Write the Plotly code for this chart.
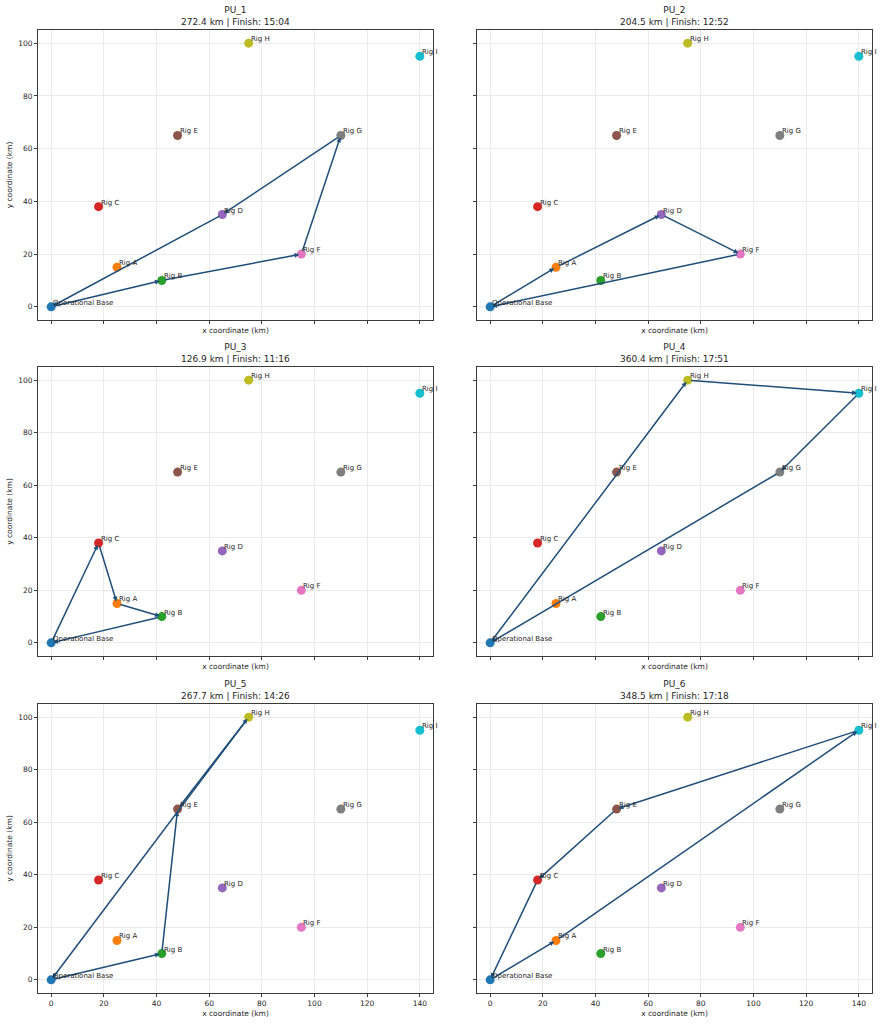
import plotly.graph_objects as go

# site locations (km)
sites = ["Operational Base", "Rig A", "Rig B", "Rig C", "Rig D",
         "Rig E", "Rig F", "Rig G", "Rig H", "Rig I"]
site_x = [0, 25, 42, 18, 65, 48, 95, 110, 75, 140]
site_y = [0, 15, 10, 38, 35, 65, 20, 65, 100, 95]

# one route per production unit, start/end at the base
pu_names = ["PU_1", "PU_2", "PU_3", "PU_4", "PU_5", "PU_6"]
pu_routes = [
    ["Operational Base", "Rig B", "Rig F", "Rig G", "Rig D", "Operational Base"],
    ["Operational Base", "Rig A", "Rig D", "Rig F", "Operational Base"],
    ["Operational Base", "Rig C", "Rig A", "Rig B", "Operational Base"],
    ["Operational Base", "Rig H", "Rig I", "Rig G", "Operational Base"],
    ["Operational Base", "Rig B", "Rig E", "Rig H", "Operational Base"],
    ["Operational Base", "Rig A", "Rig I", "Rig E", "Rig C", "Operational Base"],
]
pu_km = [272.4, 204.5, 126.9, 360.4, 267.7, 348.5]
pu_finish = ["15:04", "12:52", "11:16", "17:51", "14:26", "17:18"]

tab10 = ["#1f77b4", "#ff7f0e", "#2ca02c", "#d62728", "#9467bd",
         "#8c564b", "#e377c2", "#7f7f7f", "#bcbd22", "#17becf"]
ROUTE = "#1f4e79"
FONT = "DejaVu Sans"
W, H = 882, 1024

# subplot boxes in pixels: (left, right), (top, bottom)
cols = [(38, 433), (477, 872)]
rows = [(30, 320), (367, 656), (704, 993)]

fig = go.Figure()
annotations = []
pos = {s: (x, y) for s, x, y in zip(sites, site_x, site_y)}

for i, name in enumerate(pu_names):
    r, c = divmod(i, 2)
    n = i + 1
    xa = "x" if n == 1 else f"x{n}"
    ya = "y" if n == 1 else f"y{n}"
    (l, rt), (t, b) = cols[c], rows[r]
    xdom = [l / W, rt / W]
    ydom = [1 - b / H, 1 - t / H]

    fig.add_trace(go.Scatter(
        x=site_x, y=site_y, mode="markers", xaxis=xa, yaxis=ya,
        marker=dict(size=9, color=tab10, line=dict(width=0)),
        hoverinfo="text", text=sites, showlegend=False,
    ))

    route = pu_routes[i]
    for a, bb in zip(route[:-1], route[1:]):
        x0, y0 = pos[a]
        x1, y1 = pos[bb]
        annotations.append(dict(
            x=x1, y=y1, ax=x0, ay=y0, xref=xa, yref=ya, axref=xa, ayref=ya,
            text="", showarrow=True, arrowhead=2, arrowsize=0.65,
            arrowwidth=1.5, arrowcolor=ROUTE, standoff=2, startstandoff=2,
        ))

    for s, x, y in zip(sites, site_x, site_y):
        annotations.append(dict(
            x=x, y=y, xref=xa, yref=ya, text=s, showarrow=False,
            xanchor="left", yanchor="bottom", xshift=0, yshift=-2,
            font=dict(family=FONT, size=7, color="#262626"),
        ))

    annotations.append(dict(
        x=(xdom[0] + xdom[1]) / 2, y=ydom[1], xref="paper", yref="paper",
        text=f"{name}<br>{pu_km[i]:.1f} km | Finish: {pu_finish[i]}",
        showarrow=False, xanchor="center", yanchor="bottom", yshift=1,
        font=dict(family=FONT, size=9, color="#262626"),
    ))

    axis_common = dict(
        showline=True, mirror=True, linecolor="#3a3a3a", linewidth=1,
        ticks="outside", ticklen=3, tickwidth=0.8, tickcolor="#3a3a3a",
        showgrid=True, gridcolor="#ebebeb", gridwidth=0.8,
        zeroline=False, automargin=False,
        tickfont=dict(family=FONT, size=7.5, color="#262626"),
    )
    fig.update_layout({
        ("xaxis" if n == 1 else f"xaxis{n}"): dict(
            axis_common, domain=xdom, range=[-5, 145], anchor=ya,
            tick0=0, dtick=20, showticklabels=(r == 2),
            title=dict(text="x coordinate (km)", standoff=3 if r == 2 else 4,
                       font=dict(family=FONT, size=7.5, color="#262626")),
        ),
        ("yaxis" if n == 1 else f"yaxis{n}"): dict(
            axis_common, domain=ydom, range=[-5, 105], anchor=xa,
            tick0=0, dtick=20, showticklabels=(c == 0),
            title=dict(text="y coordinate (km)" if c == 0 else "", standoff=4,
                       font=dict(family=FONT, size=7.5, color="#262626")),
        ),
    })

fig.update_layout(
    width=W, height=H,
    margin=dict(l=0, r=0, t=0, b=0),
    paper_bgcolor="white", plot_bgcolor="white",
    font=dict(family=FONT, size=8, color="#262626"),
    annotations=annotations,
    showlegend=False,
)

# drop the browser's default page margin so the figure fills the window
fig.write_html("out.html", config={"displayModeBar": False},
               post_script="document.body.style.margin='0';")
